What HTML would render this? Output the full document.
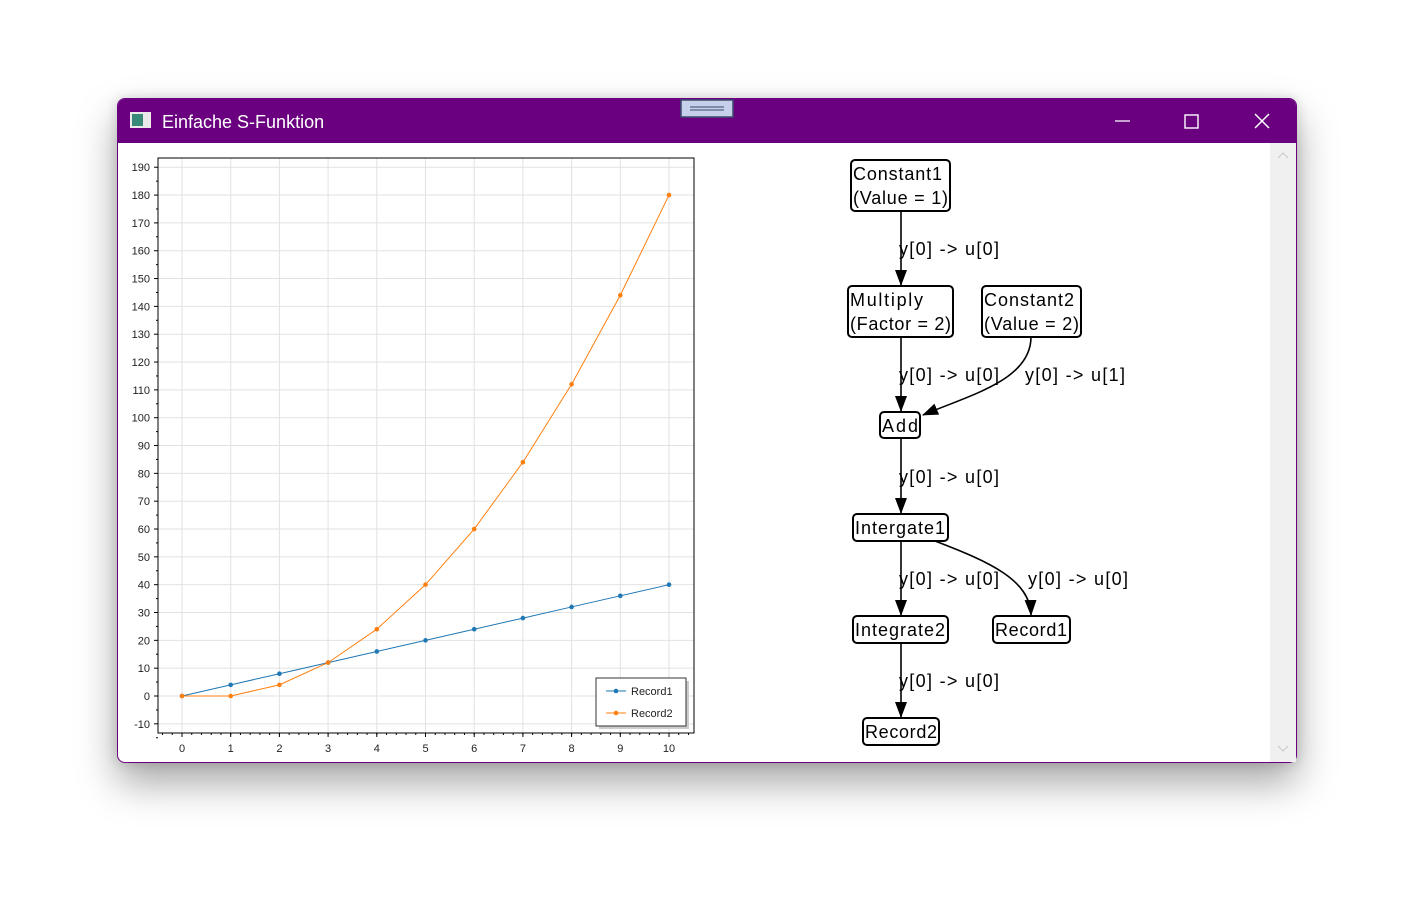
<!DOCTYPE html>
<html><head><meta charset="utf-8"><style>
body{margin:0;width:1426px;height:920px;background:#fff;overflow:hidden;font-family:"Liberation Sans",sans-serif}
#win{position:absolute;left:117px;top:98px;width:1180px;height:665px;border-radius:8px;background:#fff;box-shadow:0 20px 40px rgba(0,0,0,0.35),0 0 12px rgba(0,0,0,0.15);overflow:hidden;border:1px solid #6a0080;box-sizing:border-box}
#title{position:absolute;left:0;top:0;width:100%;height:44px;background:#6a0080;color:#fff}
</style></head><body>
<div id="win">
<div id="title">
<svg width="1180" height="44" style="position:absolute;left:0;top:0">
<rect x="12" y="13" width="21" height="16" fill="#eaeaea"/><rect x="14" y="15" width="11" height="12" fill="#3a8a7a"/>
<text x="44" y="29" fill="#fff" font-size="18" font-family="Liberation Sans, sans-serif">Einfache S-Funktion</text>
<rect x="563" y="1" width="52" height="17" fill="#c7d0ea" stroke="#3a4a6a" stroke-width="1.5"/>
<line x1="572" y1="8" x2="606" y2="8" stroke="#3a4a6a"/><line x1="572" y1="11" x2="606" y2="11" stroke="#3a4a6a"/>
<line x1="997" y1="22" x2="1012" y2="22" stroke="#fff" stroke-width="1.2"/>
<rect x="1067" y="16" width="13" height="13" fill="none" stroke="#fff" stroke-width="1.4"/>
<g><line x1="1137" y1="15" x2="1151" y2="29" stroke="#fff" stroke-width="1.5"/><line x1="1151" y1="15" x2="1137" y2="29" stroke="#fff" stroke-width="1.5"/></g>
</svg></div>
</div>
<svg id="chart" width="1426" height="920" style="position:absolute;left:0;top:0" font-family="Liberation Sans, sans-serif"></svg>
<svg width="1426" height="920" style="position:absolute;left:0;top:0" font-family="Liberation Sans, sans-serif">
<rect x="1270" y="143" width="26" height="619" fill="#f0f0f0"/>
<path d="M1278 158 l5 -5 l5 5" fill="none" stroke="#c8c8c8"/><path d="M1278 746 l5 5 l5 -5" fill="none" stroke="#c8c8c8"/>
<defs><marker id="ar2" markerWidth="16" markerHeight="12" refX="15" refY="6" orient="auto" markerUnits="userSpaceOnUse"><path d="M0 0 L16 6 L0 12z" fill="#000"/></marker></defs>
<g stroke="#000" stroke-width="1.6" fill="none">
<line x1="901" y1="211" x2="901" y2="285" marker-end="url(#ar2)"/>
<line x1="901" y1="337" x2="901" y2="411" marker-end="url(#ar2)"/>
<path d="M1031 337 C1031 380 970 395 923 415" marker-end="url(#ar2)"/>
<line x1="901" y1="438" x2="901" y2="513" marker-end="url(#ar2)"/>
<line x1="901" y1="541" x2="901" y2="615" marker-end="url(#ar2)"/>
<path d="M935 541 C990 562 1030 580 1031 615" marker-end="url(#ar2)"/>
<line x1="901" y1="643" x2="901" y2="717" marker-end="url(#ar2)"/>
</g>
<g font-size="18" fill="#000">
<text x="899" y="255" textLength="100">y[0] -&gt; u[0]</text>
<text x="899" y="381" textLength="100">y[0] -&gt; u[0]</text>
<text x="1025" y="381" textLength="100">y[0] -&gt; u[1]</text>
<text x="899" y="483" textLength="100">y[0] -&gt; u[0]</text>
<text x="899" y="585" textLength="100">y[0] -&gt; u[0]</text>
<text x="1028" y="585" textLength="100">y[0] -&gt; u[0]</text>
<text x="899" y="687" textLength="100">y[0] -&gt; u[0]</text>
</g>
<g fill="#fff" stroke="#000" stroke-width="2">
<rect x="851" y="160" width="99" height="51" rx="4"/>
<rect x="848" y="286" width="105" height="51" rx="4"/>
<rect x="982" y="286" width="99" height="51" rx="4"/>
<rect x="880" y="412" width="40" height="26" rx="4"/>
<rect x="853" y="514" width="95" height="27" rx="4"/>
<rect x="853" y="616" width="95" height="27" rx="4"/>
<rect x="993" y="616" width="77" height="27" rx="4"/>
<rect x="863" y="718" width="76" height="27" rx="4"/>
</g>
<g font-size="18" fill="#000">
<text x="853" y="180" textLength="89">Constant1</text><text x="853" y="204" textLength="95">(Value = 1)</text>
<text x="850" y="306" textLength="73">Multiply</text><text x="850" y="330" textLength="101">(Factor = 2)</text>
<text x="984" y="306" textLength="90">Constant2</text><text x="984" y="330" textLength="95">(Value = 2)</text>
<text x="882" y="432" textLength="36">Add</text>
<text x="855" y="534" textLength="90">Intergate1</text>
<text x="855" y="636" textLength="90">Integrate2</text>
<text x="995" y="636" textLength="72">Record1</text>
<text x="865" y="738" textLength="72">Record2</text>
</g>
</svg>
<script>
const xs=[0,1,2,3,4,5,6,7,8,9,10];
const record1=[0,4,8,12,16,20,24,28,32,36,40];
const record2=[0,0,4,12,24,40,60,84,112,144,180];
const yTicks=[-10,0,10,20,30,40,50,60,70,80,90,100,110,120,130,140,150,160,170,180,190];
const xTicks=[0,1,2,3,4,5,6,7,8,9,10];
const svg=document.getElementById('chart');const NS='http://www.w3.org/2000/svg';
const L=158,R=694,T=158,B=733;
const sx=v=>182+v*48.7, sy=v=>696-v*2.783;
function el(t,a,p){const e=document.createElementNS(NS,t);for(const k in a)e.setAttribute(k,a[k]);(p||svg).appendChild(e);return e;}
const grid=el('g',{stroke:'#e2e2e2','stroke-width':1});


yTicks.forEach(v=>{el('line',{x1:L,x2:R,y1:sy(v),y2:sy(v)},grid);
 const t=el('text',{x:150,y:sy(v)+4,'text-anchor':'end','font-size':11,fill:'#222'});t.textContent=v;
 
 
 el('line',{x1:L-4,x2:L,y1:sy(v),y2:sy(v),stroke:'#000'});
 el('line',{x1:L-2,x2:L,y1:sy(v)+2.783*5,y2:sy(v)+2.783*5,stroke:'#000'});});
xTicks.forEach(v=>{el('line',{y1:T,y2:B,x1:sx(v),x2:sx(v)},grid);
 const t=el('text',{x:sx(v),y:752,'text-anchor':'middle','font-size':11,fill:'#222'});t.textContent=v;
 
 
 el('line',{x1:sx(v),x2:sx(v),y1:B,y2:B+4,stroke:'#000'});});
for(let v=-0.4;v<=10.4;v+=0.2){el('line',{x1:sx(v),x2:sx(v),y1:B,y2:B+2,stroke:'#000'});}
const frame=el('rect',{x:L,y:T,width:R-L,height:B-T,fill:'none',stroke:'#000'});


function series(data,col,name){const g=el('g',{});
 
 
 el('polyline',{points:xs.map((x,i)=>sx(x)+','+sy(data[i])).join(' '),fill:'none',stroke:col,'stroke-width':1},g);
 xs.forEach((x,i)=>{const c=el('circle',{cx:sx(x),cy:sy(data[i]),r:2.3,fill:col},g);
  
  });}
series(record1,'#1f77b4','record1-series');
series(record2,'#ff7f0e','record2-series');
const lg=el('g',{});


el('rect',{x:599,y:681,width:90,height:48,fill:'#ccc'},lg);
el('rect',{x:596,y:678,width:90,height:48,fill:'#fff',stroke:'#333'},lg);
[['Record1','#1f77b4',691],['Record2','#ff7f0e',713]].forEach(([n,c,y])=>{
 el('line',{x1:606,x2:626,y1:y,y2:y,stroke:c},lg);el('circle',{cx:616,cy:y,r:2.3,fill:c},lg);
 const t=el('text',{x:631,y:y+4,'font-size':11,fill:'#222'},lg);t.textContent=n;
 
 });
</script>
</body></html>
